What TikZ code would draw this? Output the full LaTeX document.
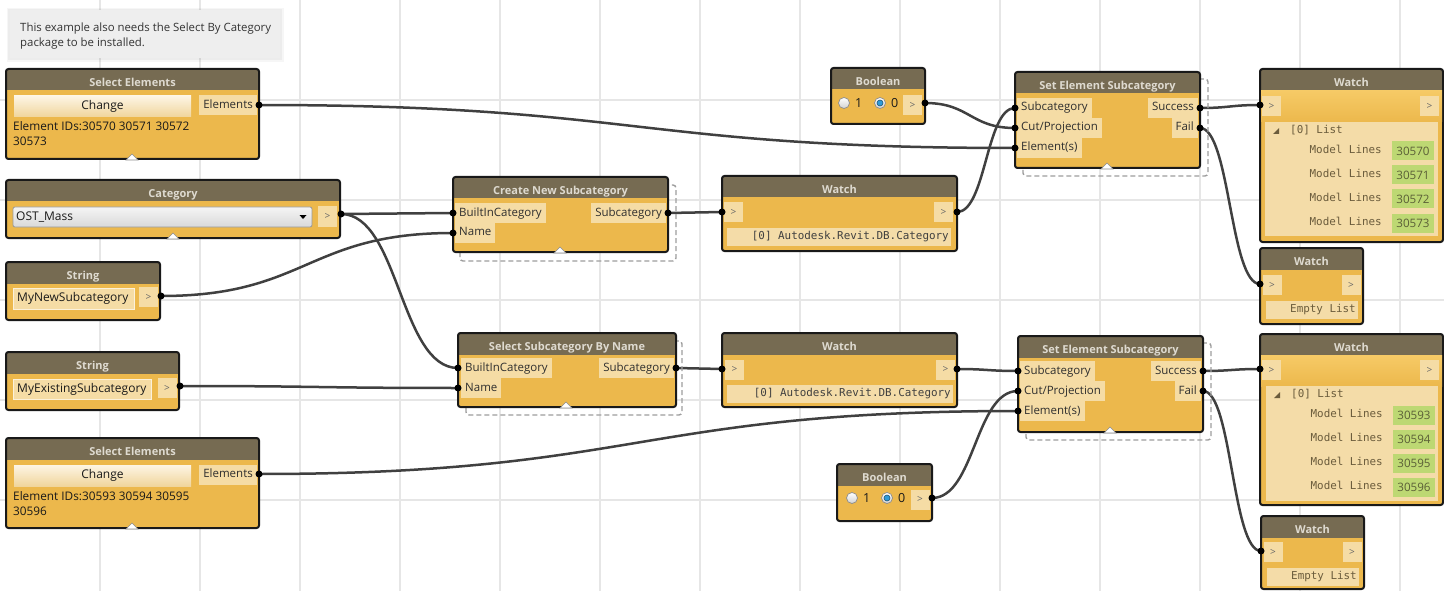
\documentclass[tikz,border=0pt]{standalone}
\usepackage{fontspec}
\setmainfont{Open Sans}
\newfontfamily\monofont{DejaVu Sans Mono}
\usetikzlibrary{calc}

\pgfdeclarelayer{gridlayer}
\pgfdeclarelayer{wirelayer}
\pgfsetlayers{gridlayer,wirelayer,main}

\definecolor{dbody}{HTML}{ECB84C}
\definecolor{dtitle}{HTML}{766B52}
\definecolor{dtitletext}{HTML}{DEDAD0}
\definecolor{dlabel}{HTML}{F5DCA5}
\definecolor{dlist}{HTML}{F4DCA8}
\definecolor{dlisttext}{HTML}{6B5C3C}
\definecolor{dgrid}{HTML}{E6E6E6}
\definecolor{dwire}{HTML}{404040}
\definecolor{dgreen}{HTML}{BDD873}
\definecolor{dgreentext}{HTML}{5B5F37}
\definecolor{dnote}{HTML}{EEEEEE}
\definecolor{ddash}{HTML}{9E9E9E}
\definecolor{btntop}{HTML}{FDF5E4}
\definecolor{btnbot}{HTML}{F0D59C}
\definecolor{bandtop}{HTML}{F6CA66}
\definecolor{selblue}{HTML}{2F9BD8}

\tikzset{
  titletext/.style={text=dtitletext, font=\fontsize{11}{12}\selectfont\bfseries, inner sep=0, anchor=base},
  frame/.style={draw=black!90, line width=2pt, rounded corners=2.5pt, inner sep=0},
  plabel/.style={fill=dlabel, minimum height=20pt, inner xsep=4pt, inner ysep=0pt,
    text height=8.5pt, text depth=2.5pt, text=black!82, font=\fontsize{11.5}{13}\selectfont},
  gtbox/.style={fill=dlabel, minimum width=19pt, minimum height=20pt, inner sep=0,
    text=black!60, font=\fontsize{10}{12}\selectfont},
  portdot/.style={circle, fill=black, minimum size=7pt, inner sep=0},
  wire/.style={draw=dwire, line width=2.5pt},
  groupbox/.style={draw=ddash, line width=1.4pt, dash pattern=on 5pt off 3pt, rounded corners=3pt},
  nubtri/.style={fill=white, draw=black!45, line width=0.6pt},
  bodytext/.style={font=\fontsize{11.8}{14}\selectfont, text=black!90, inner sep=0},
  radiotext/.style={font=\fontsize{12.5}{14}\selectfont, text=black!90, inner sep=0, text height=8.6pt, text depth=0pt},
  inputtext/.style={font=\fontsize{12}{14}\selectfont, text=black!90, inner sep=0,
    text height=8.8pt, text depth=2.8pt},
  inputbox/.style={fill=dlabel, draw=white!60!dlabel, line width=0.8pt, inner sep=0},
  btn/.style={top color=btntop, bottom color=btnbot, inner sep=0,
    font=\fontsize{12}{14}\selectfont, text=black!90, text height=8.8pt, text depth=2.8pt},
  monotext/.style={font=\monofont\fontsize{10.9}{12}\selectfont, inner sep=0,
    text height=8pt, text depth=2.2pt},
  listbox/.style={fill=dlist, inner sep=0},
  greenbox/.style={fill=dgreen, minimum width=42pt, minimum height=19pt, inner sep=0,
    text=dgreentext, font=\fontsize{11.6}{13}\selectfont, text height=8.2pt, text depth=0pt},
  radiobase/.style={circle, minimum size=11pt, inner sep=0, draw=black!45, line width=0.7pt,
    top color=white, bottom color=black!18},
  radiodot/.style={circle, minimum size=6pt, inner sep=0, fill=selblue, draw=selblue!55!black, line width=0.6pt},
}

% node body: name, x1, y1, x2, y2, title
\newcommand\dyn[6]{%
  \fill[dbody, rounded corners=2.5pt] (#2,#3) rectangle (#4,#5);
  \begin{scope}
    \clip[rounded corners=2.5pt] (#2,#3) rectangle (#4,#5);
    \fill[dtitle] (#2,#3) rectangle (#4,#3+21.5);
  \end{scope}
  \node[titletext] (#1-title) at ({(#2+#4)/2},#3+17.3) {#6};
  \node[frame, minimum width={#4-#2}, minimum height={#5-#3}] (#1) at ({(#2+#4)/2},{(#3+#5)/2}) {};
}
% small white marker at the bottom middle of a node
\newcommand\dnub[2]{\filldraw[nubtri] (#1-6,#2+1) -- (#1,#2-5) -- (#1+6,#2+1) -- cycle;}
% connector port
\newcommand\dport[3]{\node[portdot] (#1) at (#2,#3) {};}
% radio buttons
\newcommand\radiooff[3]{\node[radiobase] (#1) at (#2,#3) {};}
\newcommand\radioon[3]{\node[radiobase] (#1) at (#2,#3) {};\node[radiodot] (#1-dot) at (#2,#3) {};}

\begin{document}
\begin{tikzpicture}[x=1pt,y=-1pt]
\useasboundingbox (0,0) rectangle (1444,591);

% canvas and grid
\begin{pgfonlayer}{gridlayer}
  \fill[white] (0,0) rectangle (1444,591);
  \foreach \gx in {100,200,...,1400} \draw[dgrid, line width=2pt] (\gx,0) -- (\gx,591);
  \foreach \gy in {100,200,...,500} \draw[dgrid, line width=2pt] (0,\gy) -- (1444,\gy);
\end{pgfonlayer}

% note
\fill[black, opacity=0.035] (7,8) rectangle (284,62);
\fill[black, opacity=0.04] (8,9) rectangle (282,60);
\fill[dnote] (10,10) rectangle (280,58);
\node[anchor=base west, inner sep=0, text=black!80, font=\fontsize{11.4}{13}\selectfont] (note1) at (20,32) {This example also needs the Select By Category};
\node[anchor=base west, inner sep=0, text=black!80, font=\fontsize{11.4}{13}\selectfont] (note2) at (20,46.5) {package to be installed.};

% ---- Select Elements (top)
\dyn{se1}{6}{69}{259}{159}{Select Elements}
\node[btn, minimum width=177pt, minimum height=21pt] (se1b) at (102.5,106.5) {Change};
\node[plabel, anchor=east] (se1l) at (257,105.5) {Elements};
\node[bodytext, anchor=base west] (se1i) at (13,131) {Element IDs:30570 30571 30572};
\node[bodytext, anchor=base west] (se1j) at (13,146) {30573};
\dnub{132}{159}
\dport{se1o}{259}{105}

% ---- Category
\dyn{cat}{6}{180}{340}{238}{Category}
\node[draw=black!40, line width=0.8pt, rounded corners=2pt, top color=white!96!black, bottom color=black!15,
  minimum width=299pt, minimum height=20pt, inner sep=0] (catdd) at (162.5,217) {};
\node[inputtext, anchor=west] (catt) at (16,217) {OST\_Mass};
\fill[black] (299.5,215) -- (306.5,215) -- (303,219) -- cycle;
\node[gtbox] (catg) at (327.5,216.5) {>};
\dnub{173}{238}
\dport{cato}{341}{214}

% ---- String (new name)
\dyn{str1}{6}{262}{160}{320}{String}
\node[inputbox, minimum width=121pt, minimum height=21pt] (str1b) at (73.5,298.5) {};
\node[inputtext, anchor=west] (str1t) at (17,298.5) {MyNewSubcategory};
\node[gtbox] (str1g) at (148.5,297) {>};
\dport{str1o}{161}{296}

% ---- String (existing name)
\dyn{str2}{6}{352}{179}{410}{String}
\node[inputbox, minimum width=138pt, minimum height=20pt] (str2b) at (82,389) {};
\node[inputtext, anchor=west] (str2t) at (17,389) {MyExistingSubcategory};
\node[gtbox] (str2g) at (167,388) {>};
\dport{str2o}{180}{386}

% ---- Select Elements (bottom)
\dyn{se2}{6}{438}{259}{528}{Select Elements}
\node[btn, minimum width=177pt, minimum height=21pt] (se2b) at (102.5,475.5) {Change};
\node[plabel, anchor=east] (se2l) at (257,474.5) {Elements};
\node[bodytext, anchor=base west] (se2i) at (13,500) {Element IDs:30593 30594 30595};
\node[bodytext, anchor=base west] (se2j) at (13,515) {30596};
\dnub{132}{528}
\dport{se2o}{259}{474}

% ---- Create New Subcategory
\draw[groupbox] (460,185) rectangle (676,261);
\dyn{cns}{453}{177}{668}{252}{Create New Subcategory}
\node[plabel, anchor=west] (cnsl1) at (455,213) {BuiltInCategory};
\node[plabel, anchor=west] (cnsl2) at (455,233) {Name};
\node[plabel, anchor=east] (cnsl3) at (666,213) {Subcategory};
\dnub{560}{252}
\dport{cnsi1}{453}{213}
\dport{cnsi2}{453}{233}
\dport{cnso}{668}{213}

% ---- Watch (new subcategory)
\dyn{w1}{722}{176}{957}{251}{Watch}
\node[gtbox] (w1gl) at (733.5,212) {>};
\node[gtbox] (w1gr) at (943.5,212) {>};
\node[listbox, minimum width=224pt, minimum height=18pt] (w1b) at (839,237) {};
\node[monotext, text=black!75, anchor=east] (w1t) at (949,237) {[0] Autodesk.Revit.DB.Category};
\dport{w1i}{722}{212}
\dport{w1o}{957}{212}

% ---- Select Subcategory By Name
\draw[groupbox] (466,341) rectangle (682,415);
\dyn{ssn}{458}{333}{676}{407}{Select Subcategory By Name}
\node[plabel, anchor=west] (ssnl1) at (461,368) {BuiltInCategory};
\node[plabel, anchor=west] (ssnl2) at (461,388) {Name};
\node[plabel, anchor=east] (ssnl3) at (674,368) {Subcategory};
\dnub{566}{407}
\dport{ssni1}{458}{368}
\dport{ssni2}{458}{388}
\dport{ssno}{676}{368}

% ---- Watch (existing subcategory)
\dyn{w2}{722}{333}{957}{407}{Watch}
\node[gtbox] (w2gl) at (734.5,369.5) {>};
\node[gtbox] (w2gr) at (945.5,369.5) {>};
\node[listbox, minimum width=226pt, minimum height=18pt] (w2b) at (840,394) {};
\node[monotext, text=black!75, anchor=east] (w2t) at (951,394) {[0] Autodesk.Revit.DB.Category};
\dport{w2i}{722}{369}
\dport{w2o}{957}{369}

% ---- Boolean (top)
\dyn{b1}{831}{68}{925}{124}{Boolean}
\radiooff{b1r1}{844}{103}
\node[radiotext, anchor=west] (b1t1) at (855,103.5) {1};
\radioon{b1r0}{880}{103}
\node[radiotext, anchor=west] (b1t0) at (891,103.5) {0};
\node[gtbox] (b1g) at (912.5,105) {>};
\dport{b1o}{925}{103}

% ---- Boolean (bottom)
\dyn{b2}{837}{464}{932}{521}{Boolean}
\radiooff{b2r1}{852}{498}
\node[radiotext, anchor=west] (b2t1) at (863,498.5) {1};
\radioon{b2r0}{887}{498}
\node[radiotext, anchor=west] (b2t0) at (898,498.5) {0};
\node[gtbox] (b2g) at (920,499.5) {>};
\dport{b2o}{932}{498}

% ---- Set Element Subcategory (top)
\draw[groupbox] (1023,79) rectangle (1208,176);
\dyn{st1}{1015}{72}{1200}{168}{Set Element Subcategory}
\node[plabel, anchor=west] (st1l1) at (1017,108) {Subcategory};
\node[plabel, anchor=west] (st1l2) at (1017,128) {Cut/Projection};
\node[plabel, anchor=west] (st1l3) at (1017,148) {Element(s)};
\node[plabel, anchor=east] (st1l4) at (1198,108) {Success};
\node[plabel, anchor=east] (st1l5) at (1198,128) {Fail};
\dnub{1107}{168}
\dport{st1i1}{1015}{108}
\dport{st1i2}{1015}{128}
\dport{st1i3}{1015}{148}
\dport{st1o1}{1200}{108}
\dport{st1o2}{1200}{128}

% ---- Set Element Subcategory (bottom)
\draw[groupbox] (1026,343) rectangle (1211,440);
\dyn{st2}{1018}{336}{1203}{432}{Set Element Subcategory}
\node[plabel, anchor=west] (st2l1) at (1020,371) {Subcategory};
\node[plabel, anchor=west] (st2l2) at (1020,391) {Cut/Projection};
\node[plabel, anchor=west] (st2l3) at (1020,411) {Element(s)};
\node[plabel, anchor=east] (st2l4) at (1201,371) {Success};
\node[plabel, anchor=east] (st2l5) at (1201,391) {Fail};
\dnub{1110}{432}
\dport{st2i1}{1018}{371}
\dport{st2i2}{1018}{391}
\dport{st2i3}{1018}{411}
\dport{st2o1}{1203}{371}
\dport{st2o2}{1203}{391}

% ---- Watch (success, top)
\dyn{wb1}{1260}{69}{1443}{242}{Watch}
\shade[top color=bandtop, bottom color=dbody] (1261,91) rectangle (1442,122);
\node[gtbox] (wb1gl) at (1271.5,106) {>};
\node[gtbox] (wb1gr) at (1429.5,106) {>};
\fill[dlist] (1265,122) rectangle (1438,236);
\fill[dlisttext] (1273,134) -- (1279,134) -- (1279,128) -- cycle;
\node[monotext, text=dlisttext, anchor=west] (wb1h) at (1290,131) {[0] List};
\foreach \i/\v in {0/30570,1/30571,2/30572,3/30573}{
  \node[monotext, text=dlisttext, anchor=east] (wb1m\i) at (1382,151+24*\i) {Model Lines};
  \node[greenbox] (wb1v\i) at (1413,151+24*\i) {\v};
}
\dport{wb1i}{1260}{105}

% ---- Watch (fail, top)
\dyn{ws1}{1260}{248}{1363}{324}{Watch}
\node[gtbox] (ws1gl) at (1272,285) {>};
\node[gtbox] (ws1gr) at (1351,285) {>};
\node[listbox, minimum width=92pt, minimum height=18pt] (ws1b) at (1312,310) {};
\node[monotext, text=dlisttext, anchor=east] (ws1t) at (1356,310) {Empty List};
\dport{ws1i}{1260}{284}

% ---- Watch (success, bottom)
\dyn{wb2}{1260}{334}{1443}{505}{Watch}
\shade[top color=bandtop, bottom color=dbody] (1261,355.5) rectangle (1442,386);
\node[gtbox] (wb2gl) at (1271.5,370) {>};
\node[gtbox] (wb2gr) at (1429.5,370) {>};
\fill[dlist] (1266,386) rectangle (1438,501);
\fill[dlisttext] (1274,398) -- (1280,398) -- (1280,392) -- cycle;
\node[monotext, text=dlisttext, anchor=west] (wb2h) at (1291,395) {[0] List};
\foreach \i/\v in {0/30593,1/30594,2/30595,3/30596}{
  \node[monotext, text=dlisttext, anchor=east] (wb2m\i) at (1383,415+24*\i) {Model Lines};
  \node[greenbox] (wb2v\i) at (1414,415+24*\i) {\v};
}
\dport{wb2i}{1260}{369}

% ---- Watch (fail, bottom)
\dyn{ws2}{1261}{516}{1364}{589}{Watch}
\node[gtbox] (ws2gl) at (1273,552) {>};
\node[gtbox] (ws2gr) at (1352,552) {>};
\node[listbox, minimum width=92pt, minimum height=18pt] (ws2b) at (1313,577) {};
\node[monotext, text=dlisttext, anchor=east] (ws2t) at (1357,577) {Empty List};
\dport{ws2i}{1261}{551}

% ---- connectors
\begin{pgfonlayer}{wirelayer}
  \draw[wire] (se1o.center) .. controls +(378,0) and +(-378,0) .. (st1i3.center);
  \draw[wire] (cato.center) .. controls +(56,0) and +(-56,0) .. (cnsi1.center);
  \draw[wire] (cato.center) .. controls +(58,0) and +(-58,0) .. (ssni1.center);
  \draw[wire] (str1o.center) .. controls +(146,0) and +(-146,0) .. (cnsi2.center);
  \draw[wire] (str2o.center) .. controls +(139,0) and +(-139,0) .. (ssni2.center);
  \draw[wire] (cnso.center) .. controls +(27,0) and +(-27,0) .. (w1i.center);
  \draw[wire] (w1o.center) .. controls +(29,0) and +(-29,0) .. (st1i1.center);
  \draw[wire] (b1o.center) .. controls +(45,0) and +(-45,0) .. (st1i2.center);
  \draw[wire] (st1o1.center) .. controls +(30,0) and +(-30,0) .. (wb1i.center);
  \draw[wire] (st1o2.center) .. controls +(30,0) and +(-30,0) .. (ws1i.center);
  \draw[wire] (ssno.center) .. controls +(23,0) and +(-23,0) .. (w2i.center);
  \draw[wire] (w2o.center) .. controls +(30,0) and +(-30,0) .. (st2i1.center);
  \draw[wire] (b2o.center) .. controls +(43,0) and +(-43,0) .. (st2i2.center);
  \draw[wire] (se2o.center) .. controls +(380,0) and +(-380,0) .. (st2i3.center);
  \draw[wire] (st2o1.center) .. controls +(28,0) and +(-28,0) .. (wb2i.center);
  \draw[wire] (st2o2.center) .. controls +(29,0) and +(-29,0) .. (ws2i.center);
\end{pgfonlayer}
\end{tikzpicture}
\end{document}
